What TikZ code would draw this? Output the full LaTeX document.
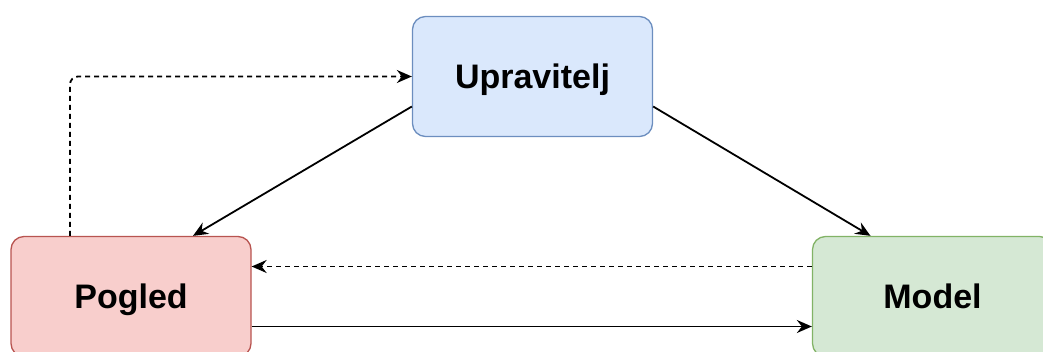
\documentclass[tikz,border=0pt]{standalone}
\usepackage{fontspec}
\setmainfont{Liberation Sans}
\usetikzlibrary{shapes.geometric, arrows.meta}
\definecolor{blueFill}{HTML}{DAE8FC}
\definecolor{blueLine}{HTML}{6C8EBF}
\definecolor{redFill}{HTML}{F8CECC}
\definecolor{redLine}{HTML}{B85450}
\definecolor{greenFill}{HTML}{D5E8D4}
\definecolor{greenLine}{HTML}{82B366}
\tikzstyle{component} = [rectangle, rounded corners=13pt, minimum width=240pt, minimum height=120pt, text centered, text height=24pt, text depth=0pt, line width=1.3pt, font=\fontsize{34}{40}\selectfont\bfseries]
\tikzstyle{controller} = [component, draw=blueLine, fill=blueFill]
\tikzstyle{view} = [component, draw=redLine, fill=redFill]
\tikzstyle{model} = [component, draw=greenLine, fill=greenFill]
\tikzstyle{arrow} = [line width=1.8pt,->,>={Stealth[length=15pt,width=13pt,inset=5pt]}]
\tikzstyle{dasharrow} = [arrow, dash pattern=on 5pt off 4pt]

\begin{document}
\begin{tikzpicture}[x=1pt, y=1pt]
    \useasboundingbox (0,0) rectangle (1043,351);

    % Nodes
    \node (upravitelj) [controller] at (532.5,274.5) {Upravitelj};
    \node (pogled) [view] at (131,54.5) {Pogled};
    \node (model) [model] at (932.5,54.5) {Model};

    % Arrows
    \draw [dasharrow, rounded corners=8pt] ([xshift=-61pt]pogled.north) |- (upravitelj.west);
    \draw [arrow] ([yshift=-30pt]upravitelj.west) -- ([xshift=62pt]pogled.north);
    \draw [arrow] ([yshift=-30pt]upravitelj.east) -- ([xshift=-62pt]model.north);
    \draw [dasharrow] ([yshift=30pt]model.west) -- ([yshift=30pt]pogled.east);
    \draw [arrow] ([yshift=-30pt]pogled.east) -- ([yshift=-30pt]model.west);
\end{tikzpicture}
\end{document}
